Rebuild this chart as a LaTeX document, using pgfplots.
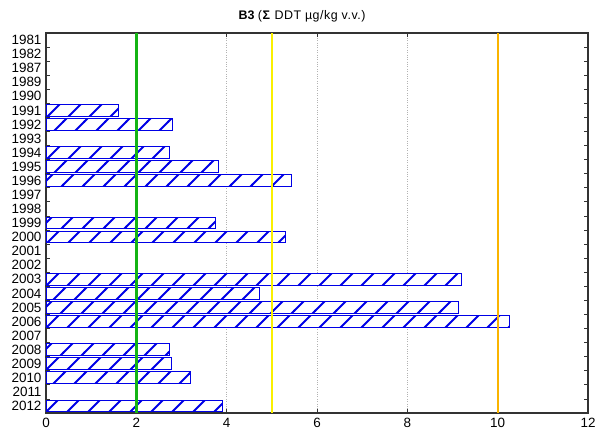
\documentclass[border=0pt]{standalone}
\usepackage{pgfplots}
\pgfplotsset{compat=1.18}
\usepackage{fontspec}
\setmainfont{Liberation Sans}
\usetikzlibrary{patterns}
\definecolor{hatchblue}{RGB}{0,0,230}
\definecolor{lgreen}{RGB}{20,180,20}
\definecolor{lyellow}{RGB}{250,240,0}
\definecolor{lorange}{RGB}{250,180,0}
\pgfdeclarepatternformonly{myhatch}{\pgfqpoint{-1bp}{-1bp}}{\pgfqpoint{22bp}{22bp}}{\pgfqpoint{21bp}{21bp}}{%
  \pgfsetlinewidth{1.9bp}%
  \pgfpathmoveto{\pgfqpoint{-1bp}{-1bp}}%
  \pgfpathlineto{\pgfqpoint{22bp}{22bp}}%
  \pgfusepath{stroke}}
\begin{document}
\begin{tikzpicture}
\begin{axis}[
  scale only axis,
  width=542bp, height=380bp,
  xmin=0, xmax=12,
  ymin=-0.5, ymax=26.5,
  y dir=reverse,
  xtick={0,2,...,12},
  ytick={0,...,26},
  yticklabels={1981,1982,1987,1989,1990,1991,1992,1993,1994,1995,1996,1997,1998,1999,2000,2001,2002,2003,2004,2005,2006,2007,2008,2009,2010,2011,2012},
  major y tick style={draw=none},
  minor ytick={-0.5,0.5,...,26.5},
  minor tick length=4bp,
  major tick length=4bp,
  tick align=inside,
  tick pos=both,
  xmajorgrids,
  major grid style={gray!60, dotted, line width=0.6pt},
  axis line style={black!80, line width=1.2pt},
  tick style={black!80, line width=0.8pt},
  tick label style={font=\fontsize{13.5}{15}\selectfont},
  /pgf/number format/assume math mode=true,
  yticklabel style={xshift=-1bp},
  xticklabel style={yshift=-2bp},
  title={\fontsize{12.5}{14}\selectfont\textbf{B3} {\fontsize{12.5}{14}\addfontfeatures{LetterSpace=4}\selectfont(\textbf{Σ} DDT µg/kg v.v.)}},
  title style={yshift=1bp, xshift=-15bp},
  clip=false,
]
\coordinate (sw) at (rel axis cs:0,0);
\coordinate (ne) at (rel axis cs:1,1);
\addplot[xbar, bar width=0.84, draw=hatchblue, line width=1pt,
  fill=white, postaction={pattern=myhatch, pattern color=hatchblue}]
  coordinates {
  (1.60,5) (2.79,6) (2.73,8) (3.83,9) (5.44,10) (3.75,13) (5.30,14)
  (9.21,17) (4.72,18) (9.14,19) (10.27,20) (2.74,22) (2.77,23) (3.20,24) (3.91,26)
  };
\addplot[lgreen, line width=2.4pt] coordinates {(2,-0.5) (2,26.5)};
\addplot[lyellow, line width=1.8pt] coordinates {(5,-0.5) (5,26.5)};
\addplot[lorange, line width=2.2pt] coordinates {(10,-0.5) (10,26.5)};
\end{axis}
\pgfresetboundingbox
\path ([shift={(-46bp,-24bp)}]sw) rectangle ([shift={(7bp,33bp)}]ne);
\end{tikzpicture}
\end{document}
